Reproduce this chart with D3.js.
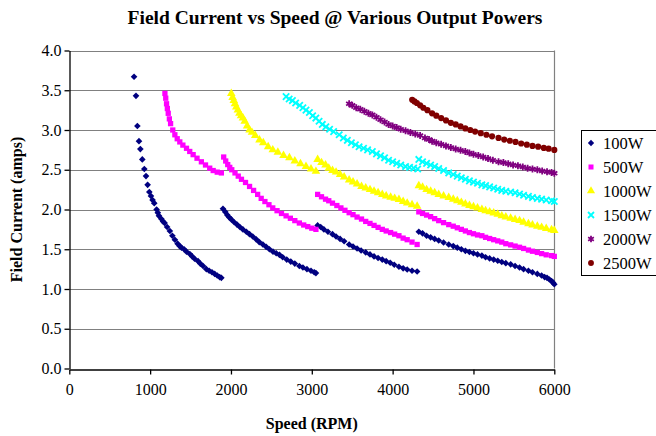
<!DOCTYPE html>
<html><head><meta charset="utf-8">
<script src="https://cdn.jsdelivr.net/npm/d3@7"></script>
<style>body{margin:0;background:#fff}svg{display:block}text{font-family:"Liberation Serif","Times New Roman",serif}</style>
</head><body><svg id="c" width="656" height="436"></svg>
<script>
const title = "Field Current vs Speed @ Various Output Powers";
const xTitle = "Speed (RPM)";
const yTitle = "Field Current (amps)";
const xTicks = [0,1000,2000,3000,4000,5000,6000];
const yTicks = [0,0.5,1,1.5,2,2.5,3,3.5,4];
const seriesNames = ["100W","500W","1000W","1500W","2000W","2500W"];

const s100W = [
[801,3.67],[825,3.43],[842,3.05],[862,2.86],[879,2.76],[903,2.63],[928,2.51],[949,2.42],[969,2.31],[990,2.22],[1010,2.17],[1030,2.12],[1051,2.08],[1080,2.00],[1095,1.96],[1109,1.92],[1140,1.88],[1160,1.85],[1179,1.83],[1210,1.78],[1244,1.73],[1275,1.67],[1306,1.62],[1340,1.57],[1365,1.54],[1388,1.52],[1420,1.50],[1450,1.47],[1491,1.44],[1520,1.41],[1550,1.38],[1593,1.35],[1620,1.32],[1655,1.29],[1696,1.25],[1730,1.23],[1765,1.21],[1799,1.19],[1830,1.17],[1860,1.15],[1881,1.14],
[1901,2.01],[1930,1.97],[1955,1.93],[1980,1.90],[2004,1.875],[2040,1.84],[2075,1.81],[2110,1.78],[2148,1.75],[2190,1.72],[2230,1.69],[2270,1.66],[2312,1.625],[2350,1.59],[2395,1.56],[2435,1.53],[2476,1.50],[2520,1.47],[2560,1.45],[2600,1.43],[2640,1.40],[2690,1.37],[2740,1.345],[2790,1.32],[2846,1.29],[2890,1.27],[2940,1.25],[2990,1.23],[3030,1.21],[3051,1.20],
[3072,1.80],[3110,1.78],[3150,1.75],[3200,1.72],[3256,1.69],[3300,1.66],[3350,1.63],[3400,1.60],[3462,1.56],[3510,1.535],[3560,1.51],[3610,1.485],[3667,1.46],[3720,1.435],[3770,1.41],[3820,1.39],[3872,1.37],[3920,1.35],[3970,1.33],[4020,1.305],[4078,1.28],[4130,1.26],[4180,1.245],[4240,1.23],[4303,1.22],
[4324,1.72],[4370,1.70],[4420,1.67],[4470,1.65],[4520,1.63],[4570,1.61],[4630,1.585],[4694,1.56],[4750,1.54],[4800,1.52],[4850,1.50],[4900,1.48],[4950,1.465],[5000,1.45],[5050,1.435],[5104,1.42],[5150,1.40],[5200,1.385],[5250,1.37],[5300,1.355],[5350,1.34],[5400,1.325],[5460,1.31],[5515,1.29],[5570,1.27],[5620,1.25],[5680,1.23],[5730,1.21],[5790,1.19],[5843,1.17],[5880,1.15],[5910,1.14],[5940,1.12],[5966,1.10],[5985,1.08],[6000,1.06]
];
const s500W = [
[1183,3.46],[1193,3.40],[1203,3.33],[1213,3.27],[1224,3.21],[1238,3.14],[1253,3.08],[1280,3.00],[1306,2.94],[1335,2.89],[1367,2.85],[1405,2.81],[1450,2.77],[1490,2.73],[1532,2.69],[1580,2.645],[1634,2.60],[1685,2.56],[1737,2.52],[1780,2.49],[1830,2.47],[1881,2.46],
[1910,2.66],[1935,2.61],[1960,2.565],[1985,2.53],[2010,2.50],[2050,2.46],[2090,2.42],[2130,2.38],[2180,2.34],[2230,2.29],[2280,2.24],[2330,2.19],[2374,2.14],[2420,2.10],[2470,2.06],[2517,2.02],[2570,1.985],[2625,1.95],[2682,1.92],[2735,1.89],[2790,1.86],[2846,1.83],[2900,1.805],[2950,1.785],[3000,1.765],[3051,1.75],
[3072,2.19],[3120,2.16],[3170,2.13],[3210,2.11],[3256,2.08],[3310,2.05],[3360,2.02],[3410,1.99],[3462,1.96],[3510,1.935],[3560,1.905],[3615,1.88],[3667,1.85],[3720,1.825],[3770,1.80],[3820,1.775],[3872,1.75],[3920,1.73],[3975,1.71],[4025,1.69],[4078,1.67],[4130,1.64],[4180,1.62],[4240,1.59],[4303,1.56],
[4324,1.97],[4370,1.95],[4420,1.93],[4470,1.91],[4520,1.885],[4570,1.86],[4630,1.835],[4694,1.81],[4750,1.79],[4800,1.77],[4850,1.75],[4900,1.73],[4950,1.71],[5000,1.695],[5050,1.68],[5104,1.67],[5150,1.65],[5200,1.635],[5250,1.62],[5300,1.605],[5350,1.59],[5400,1.57],[5460,1.555],[5515,1.54],[5570,1.525],[5620,1.51],[5680,1.49],[5730,1.475],[5790,1.46],[5843,1.445],[5900,1.43],[5966,1.42],[6000,1.41]
];
const s1000W = [
[2004,3.46],[2020,3.41],[2035,3.37],[2050,3.33],[2066,3.29],[2085,3.25],[2105,3.21],[2125,3.18],[2148,3.15],[2170,3.11],[2200,3.05],[2230,3.00],[2260,2.97],[2300,2.93],[2353,2.875],[2400,2.84],[2460,2.79],[2517,2.75],[2580,2.72],[2650,2.68],[2723,2.65],[2790,2.61],[2860,2.575],[2928,2.54],[2990,2.51],[3051,2.48],
[3072,2.63],[3120,2.59],[3170,2.56],[3210,2.52],[3256,2.49],[3300,2.47],[3350,2.44],[3400,2.41],[3462,2.37],[3510,2.345],[3560,2.32],[3615,2.29],[3667,2.27],[3720,2.25],[3770,2.23],[3820,2.21],[3872,2.19],[3920,2.17],[3975,2.155],[4025,2.14],[4078,2.125],[4130,2.10],[4180,2.08],[4240,2.06],[4303,2.04],
[4324,2.30],[4370,2.28],[4420,2.25],[4470,2.23],[4520,2.21],[4570,2.19],[4630,2.17],[4694,2.15],[4750,2.13],[4800,2.11],[4850,2.09],[4900,2.07],[4950,2.05],[5000,2.035],[5050,2.02],[5104,2.00],[5150,1.985],[5200,1.97],[5250,1.955],[5300,1.94],[5350,1.92],[5400,1.905],[5460,1.89],[5515,1.875],[5570,1.86],[5620,1.84],[5680,1.82],[5730,1.805],[5790,1.79],[5843,1.775],[5900,1.76],[5966,1.745],[6000,1.735]
];
const s1500W = [
[2682,3.42],[2720,3.39],[2760,3.37],[2800,3.34],[2850,3.31],[2890,3.28],[2928,3.25],[2970,3.22],[3010,3.18],[3050,3.15],[3090,3.11],[3130,3.07],[3174,3.04],[3220,3.01],[3270,2.98],[3339,2.94],[3390,2.90],[3440,2.87],[3490,2.84],[3540,2.815],[3585,2.79],[3640,2.77],[3690,2.75],[3749,2.73],[3800,2.70],[3850,2.675],[3900,2.65],[3950,2.62],[4000,2.60],[4050,2.58],[4100,2.56],[4160,2.54],[4210,2.53],[4260,2.52],[4310,2.51],
[4324,2.63],[4370,2.60],[4420,2.58],[4470,2.56],[4520,2.54],[4570,2.515],[4630,2.49],[4694,2.46],[4750,2.44],[4800,2.42],[4850,2.40],[4900,2.38],[4950,2.36],[5000,2.345],[5050,2.33],[5104,2.31],[5150,2.30],[5200,2.285],[5250,2.27],[5300,2.255],[5350,2.24],[5400,2.23],[5460,2.22],[5515,2.21],[5570,2.195],[5620,2.18],[5680,2.165],[5730,2.15],[5790,2.14],[5843,2.13],[5900,2.12],[5966,2.11],[6000,2.10]
];
const s2000W = [
[3462,3.33],[3500,3.31],[3550,3.28],[3600,3.26],[3650,3.235],[3700,3.21],[3749,3.19],[3800,3.16],[3850,3.13],[3900,3.10],[3950,3.07],[4000,3.05],[4050,3.03],[4100,3.01],[4160,2.99],[4220,2.97],[4280,2.95],[4340,2.93],[4400,2.90],[4450,2.88],[4488,2.86],[4540,2.84],[4600,2.82],[4660,2.80],[4720,2.78],[4780,2.76],[4840,2.745],[4899,2.73],[4950,2.71],[5000,2.695],[5060,2.68],[5120,2.66],[5180,2.64],[5240,2.62],[5310,2.60],[5370,2.59],[5430,2.575],[5490,2.56],[5550,2.55],[5610,2.535],[5670,2.52],[5730,2.51],[5790,2.50],[5850,2.485],[5910,2.475],[5966,2.465],[6000,2.455]
];
const s2500W = [
[4242,3.38],[4270,3.36],[4300,3.34],[4340,3.31],[4380,3.28],[4430,3.25],[4488,3.21],[4540,3.18],[4600,3.15],[4660,3.12],[4720,3.09],[4780,3.07],[4840,3.045],[4899,3.02],[4960,3.00],[5020,2.98],[5090,2.96],[5160,2.94],[5230,2.92],[5310,2.90],[5380,2.88],[5450,2.865],[5520,2.85],[5590,2.83],[5660,2.815],[5730,2.80],[5800,2.79],[5870,2.775],[5930,2.765],[6000,2.75]
];
const seriesData = [s100W, s500W, s1000W, s1500W, s2000W, s2500W];
const colors = ["#000080","#FF00FF","#FFFF00","#00FFFF","#800080","#800000"];

const svg = d3.select("#c");
const L = 69.3, R = 554.3, T = 50.5, B = 368.5;
const x = d3.scaleLinear().domain([0,6000]).range([L,R]);
const y = d3.scaleLinear().domain([0,4]).range([B,T]);

// gridlines
svg.append("g").selectAll("line").data(yTicks.filter(v=>v>0)).join("line")
  .attr("x1",L).attr("x2",R).attr("y1",d=>Math.round(y(d))+0.5).attr("y2",d=>Math.round(y(d))+0.5)
  .attr("stroke","#808080").attr("stroke-width",1.2);
svg.append("line").attr("x1",Math.round(R)+0.5).attr("x2",Math.round(R)+0.5).attr("y1",T).attr("y2",B)
  .attr("stroke","#808080").attr("stroke-width",1.2);

// axes
const xAxis = d3.axisBottom(x).tickValues(xTicks).tickSize(5).tickSizeOuter(0).tickFormat(d3.format("d"));
const gx = svg.append("g").attr("transform",`translate(0,${Math.round(B)+0.5})`).call(xAxis);
const yAxis = d3.axisLeft(y).tickValues(yTicks).tickSize(5).tickSizeOuter(0).tickFormat(d3.format(".1f"));
const gy = svg.append("g").attr("transform",`translate(${Math.round(L)+0.5},0)`).call(yAxis);
[gx,gy].forEach(g=>{
  g.attr("font-family","'Liberation Serif',serif");
  g.select(".domain").attr("stroke","#000").attr("stroke-width",1.3);
  g.selectAll(".tick line").attr("stroke","#000").attr("stroke-width",1.3);
  g.selectAll("text").attr("font-size",16).attr("fill","#000");
});
gx.selectAll("text").attr("dy","0.71em").attr("y",14);
gy.selectAll("text").attr("x",-8);

// symbols
function marker(sel, i, k){
  const c = colors[i];
  if(i===0){ sel.append("path").attr("d",d3.symbol(d3.symbolSquare,22*k)()).attr("transform","rotate(45)").attr("fill",c); }
  else if(i===1){ sel.append("path").attr("d",d3.symbol(d3.symbolSquare,28*k)()).attr("fill",c); }
  else if(i===2){ sel.append("path").attr("d",d3.symbol(d3.symbolTriangle,32*k)()).attr("fill",c); }
  else if(i===3){ sel.append("path").attr("d",d3.symbol(d3.symbolX,28*k)()).attr("fill","none").attr("stroke",c).attr("stroke-width",1.8); }
  else if(i===4){ sel.append("path").attr("d",d3.symbol(d3.symbolAsterisk,34*k)()).attr("fill","none").attr("stroke",c).attr("stroke-width",1.8); }
  else { sel.append("path").attr("d",d3.symbol(d3.symbolCircle,30*k)()).attr("fill",c); }
}

seriesData.forEach((data,i)=>{
  const g = svg.append("g");
  g.selectAll("g").data(data).join("g")
    .attr("transform",d=>`translate(${x(d[0])},${y(d[1])})`)
    .each(function(){ marker(d3.select(this), i, 1); });
});

// titles
svg.append("text").attr("x",335).attr("y",24).attr("text-anchor","middle")
  .attr("font-size",19.5).attr("font-weight","bold").text(title);
svg.append("text").attr("x",(L+R)/2).attr("y",429).attr("text-anchor","middle")
  .attr("font-size",16).attr("font-weight","bold").text(xTitle);
svg.append("text").attr("transform",`translate(22,${(T+B)/2}) rotate(-90)`).attr("text-anchor","middle")
  .attr("font-size",16).attr("font-weight","bold").text(yTitle);

// legend
const lg = svg.append("g");
lg.append("rect").attr("x",581.5).attr("y",130.5).attr("width",90).attr("height",145)
  .attr("fill","#fff").attr("stroke","#000").attr("stroke-width",1);
seriesNames.forEach((n,i)=>{
  const cy = 143 + i*24;
  const g = lg.append("g").attr("transform",`translate(591,${cy})`);
  marker(g,i,0.9);
  lg.append("text").attr("x",603).attr("y",cy).attr("dy","0.35em").attr("font-size",16.5).text(n);
});
</script></body></html>
